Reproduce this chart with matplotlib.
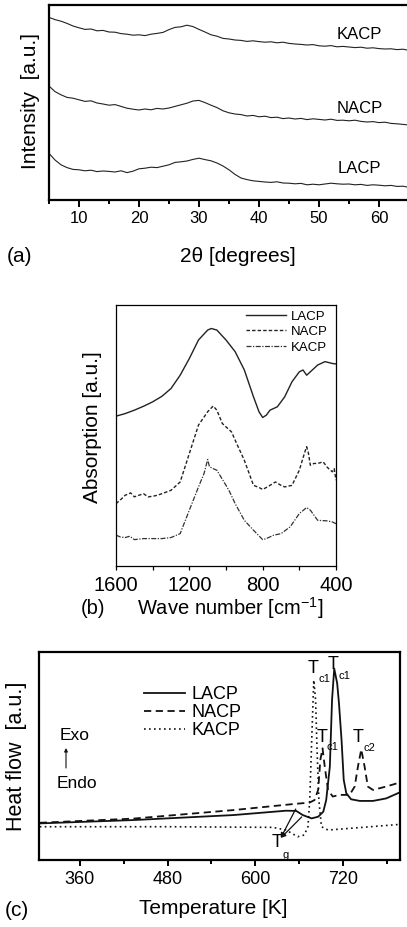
import numpy as np
import matplotlib.pyplot as plt
from matplotlib.ticker import MultipleLocator

plt.rcParams['font.family'] = ['Liberation Sans', 'DejaVu Sans']

# ── (a) XRD ──────────────────────────────────────────────────────────────
two_theta = np.arange(5, 66, 1)
xrd_kacp = [91.3, 90.2, 89.4, 88.3, 87.0, 86.1, 85.3, 85.5, 84.6, 84.8, 84.0, 83.9,
            83.2, 82.9, 82.4, 82.6, 82.2, 82.9, 83.3, 83.8, 85.2, 86.3, 86.6, 87.4,
            86.7, 85.3, 84.0, 82.6, 81.9, 80.8, 80.5, 80.0, 79.8, 79.3, 79.6, 79.2,
            78.9, 79.1, 78.6, 78.9, 78.3, 78.0, 77.8, 77.5, 77.7, 77.1, 76.9, 77.2,
            76.6, 76.8, 76.5, 76.2, 76.4, 75.9, 76.1, 75.7, 75.5, 75.6, 75.2, 75.4, 74.8]
xrd_nacp = [57.0, 54.2, 52.6, 51.3, 50.9, 50.1, 49.3, 49.6, 48.5, 48.0, 47.4, 47.7,
            46.8, 45.9, 45.4, 45.0, 45.5, 45.1, 45.8, 45.5, 46.0, 46.8, 47.6, 48.4,
            49.5, 49.8, 48.7, 47.4, 46.2, 44.6, 43.6, 43.0, 42.7, 42.0, 42.3, 41.6,
            41.9, 41.2, 41.4, 40.7, 41.0, 40.5, 40.8, 40.2, 40.6, 40.3, 40.0, 40.4,
            39.8, 39.9, 39.6, 39.9, 39.3, 39.0, 39.2, 38.7, 38.9, 38.3, 38.1, 37.8, 37.5]
xrd_lacp = [23.3, 20.0, 17.6, 16.2, 15.3, 15.1, 14.6, 14.9, 14.2, 14.5, 14.3, 14.0,
            14.6, 13.7, 14.4, 15.6, 15.9, 16.4, 16.2, 16.9, 17.6, 18.8, 19.1, 19.5,
            20.3, 20.9, 20.2, 19.6, 18.5, 17.0, 15.1, 12.8, 11.0, 10.2, 9.6, 9.3,
            9.0, 8.8, 9.1, 8.5, 8.4, 8.1, 8.3, 7.6, 7.9, 7.6, 8.0, 8.4, 8.1, 7.9,
            8.0, 7.6, 7.8, 7.3, 7.6, 7.4, 7.1, 7.3, 6.8, 6.9, 6.3]
xrd_names = ['KACP', 'NACP', 'LACP']
xrd_label_y = [82.5, 45.8, 15.8]

# ── (b) FTIR ─────────────────────────────────────────────────────────────
wn_lacp = [1600, 1550, 1500, 1450, 1400, 1350, 1300, 1250, 1200, 1150, 1100, 1080,
           1050, 1000, 950, 900, 850, 820, 800, 780, 760, 720, 680, 640, 600, 580,
           560, 540, 500, 460, 420, 400]
ir_lacp = [57.4, 58.4, 59.7, 61.2, 62.9, 65.0, 68.0, 73.1, 79.5, 86.6, 90.4, 91.0,
           90.4, 86.6, 82.1, 75.1, 64.8, 59.1, 56.9, 57.8, 59.7, 61.0, 64.8, 70.6,
           74.4, 75.1, 73.1, 74.4, 77.0, 78.3, 77.6, 77.4]
wn_nacp = [1600, 1575, 1550, 1520, 1500, 1475, 1450, 1425, 1400, 1375, 1350, 1300,
           1250, 1200, 1150, 1100, 1070, 1050, 1020, 1000, 970, 950, 900, 850, 820,
           800, 760, 730, 700, 680, 640, 600, 570, 560, 550, 540, 520, 500, 470, 450,
           440, 420, 410, 400]
ir_nacp = [23.9, 25.4, 27.1, 28.0, 26.5, 27.1, 27.7, 26.5, 26.7, 27.1, 27.7, 29.0,
           32.2, 43.1, 54.0, 59.1, 61.3, 59.7, 54.6, 53.3, 51.4, 48.2, 40.5, 30.9,
           30.1, 29.3, 30.9, 32.2, 30.9, 30.3, 30.9, 36.7, 43.7, 45.7, 43.1, 38.6,
           39.3, 39.3, 39.9, 38.0, 37.3, 36.1, 37.3, 32.9]
wn_kacp = [1600, 1575, 1550, 1525, 1500, 1450, 1400, 1350, 1300, 1250, 1200, 1150,
           1120, 1100, 1090, 1070, 1050, 1000, 980, 950, 900, 850, 800, 780, 740,
           700, 650, 600, 560, 540, 500, 450, 420, 400]
ir_kacp = [11.8, 11.1, 10.9, 11.4, 10.1, 10.5, 10.5, 10.5, 10.9, 12.4, 21.4, 30.3,
           35.4, 40.8, 38.0, 37.3, 36.7, 30.9, 28.4, 23.9, 17.5, 13.7, 10.1, 10.5,
           11.8, 12.4, 15.0, 20.1, 22.4, 21.4, 17.5, 17.3, 16.9, 16.2]

# ── (c) DSC ──────────────────────────────────────────────────────────────
t_lacp = [305, 433, 570, 642, 656, 665, 677, 686, 693, 697, 702, 705, 708, 712,
          714.5, 718, 721, 724.5, 731, 743, 761, 779, 797]
hf_lacp = [17.6, 19.2, 21.6, 23.7, 23.6, 21.6, 20.0, 20.8, 23.2, 28.8, 44.9, 76.9,
           92.0, 85.0, 75.3, 57.7, 38.5, 32.1, 29.2, 28.4, 28.4, 29.6, 32.4]
t_nacp = [305, 433, 570, 652, 674, 681, 686, 689, 692, 695, 699.5, 706, 715, 729,
          736, 740.5, 745, 749.5, 754, 761, 779, 797]
hf_nacp = [17.9, 19.9, 24.0, 26.9, 27.6, 28.8, 33.7, 48.1, 53.7, 45.0, 33.7, 30.5,
           31.3, 31.3, 35.3, 45.0, 53.2, 45.0, 35.3, 33.7, 35.3, 37.2]
t_kacp = [305, 478, 624, 642, 658, 667, 672, 674.5, 677.5, 680, 682.5, 684.5, 687,
          690.5, 699.5, 729, 797]
hf_kacp = [16.0, 16.0, 15.7, 14.4, 11.2, 12.0, 16.0, 28.8, 60.9, 86.5, 76.9, 52.9,
           28.8, 16.0, 14.4, 15.2, 17.1]

W, H = 407, 927
fig = plt.figure(figsize=(W / 100, H / 100), dpi=100)


def px(x, y):
    return x / W, 1 - y / H


# ── panel (a) ────────────────────────────────────────────────────────────
ax1 = fig.add_axes([49 / W, 1 - 200 / H, (409 - 49) / W, 195 / H])
for vals in (xrd_kacp, xrd_nacp, xrd_lacp):
    ax1.plot(two_theta, vals, color='#222222', lw=0.8)
for name, y in zip(xrd_names, xrd_label_y):
    ax1.text(56.8, y, name, fontsize=12, ha='center', va='center')
ax1.set_xlim(5, 65)
ax1.set_ylim(0, 97.5)
ax1.set_yticks([])
ax1.xaxis.set_major_locator(MultipleLocator(10))
ax1.xaxis.set_minor_locator(MultipleLocator(5))
ax1.tick_params(axis='x', which='major', direction='out', length=5, width=1.4,
                labelsize=12, pad=3)
ax1.tick_params(axis='x', which='minor', direction='out', length=3, width=1.4)
for s in ax1.spines.values():
    s.set_linewidth(1.6)
fig.text(*px(30, 101), 'Intensity  [a.u.]', rotation=90, fontsize=15,
         ha='center', va='center')
fig.text(*px(238, 257), '2θ [degrees]', fontsize=15, ha='center', va='center')
fig.text(*px(20, 257), '(a)', fontsize=15, ha='center', va='center')

# ── panel (b) ────────────────────────────────────────────────────────────
ax2 = fig.add_axes([116 / W, 1 - 566 / H, 220 / W, 261 / H])
ax2.plot(wn_lacp, ir_lacp, color='#222222', lw=1.0, ls='-', label='LACP')
ax2.plot(wn_nacp, ir_nacp, color='#222222', lw=1.0, ls=(0, (2.5, 1.5)), label='NACP')
ax2.plot(wn_kacp, ir_kacp, color='#333333', lw=0.9, ls=(0, (4, 1.2, 1, 1.2)),
         label='KACP')
ax2.set_xlim(1600, 400)
ax2.set_ylim(0, 100)
ax2.set_yticks([])
ax2.xaxis.set_major_locator(MultipleLocator(400))
ax2.xaxis.set_minor_locator(MultipleLocator(200))
ax2.tick_params(axis='x', which='both', direction='out', length=3, width=0.9,
                labelsize=14.5, pad=4)
for s in ax2.spines.values():
    s.set_linewidth(0.9)
ax2.legend(loc='upper right', bbox_to_anchor=(1.0, 1.01), frameon=False,
           fontsize=9.5, handlelength=3.0, handletextpad=0.4, labelspacing=0.25,
           borderaxespad=0.2)
fig.text(*px(92, 427), 'Absorption [a.u.]', rotation=90, fontsize=15,
         ha='center', va='center')
fig.text(*px(230, 608), 'Wave number [cm$^{\\mathregular{-1}}$]', fontsize=14.5,
         ha='center', va='center')
fig.text(*px(93, 609), '(b)', fontsize=14.5, ha='center', va='center')

# ── panel (c) ────────────────────────────────────────────────────────────
ax3 = fig.add_axes([39 / W, 1 - 860 / H, 361 / W, 208 / H])
ax3.plot(t_lacp, hf_lacp, color='#111111', lw=1.3, ls='-', label='LACP')
ax3.plot(t_nacp, hf_nacp, color='#111111', lw=1.3, ls=(0, (4, 2.5)), label='NACP')
ax3.plot(t_kacp, hf_kacp, color='#111111', lw=1.2, ls=(0, (1, 2)), label='KACP')
ax3.set_xlim(304, 798)
ax3.set_ylim(0, 100)
ax3.set_yticks([])
ax3.xaxis.set_major_locator(MultipleLocator(120))
ax3.xaxis.set_minor_locator(MultipleLocator(60))
ax3.tick_params(axis='x', which='major', direction='out', length=4, width=1.4,
                labelsize=13, pad=4)
ax3.tick_params(axis='x', which='minor', direction='out', length=3, width=1.4)
for s in ax3.spines.values():
    s.set_linewidth(1.6)
ax3.legend(loc='upper left', bbox_to_anchor=(0.27, 0.87), frameon=False,
           fontsize=13, handlelength=2.3, handletextpad=0.35, labelspacing=0.05,
           borderaxespad=0.0)

# crystallisation / glass transition labels
for (tx, ty, sx, sy, sub) in [(678.5, 92.3, 695, 87, 'c1'),
                              (705.9, 94.2, 722.3, 88.5, 'c1'),
                              (690.8, 59.1, 705.9, 54.3, 'c1'),
                              (740.0, 59.1, 756.4, 53.8, 'c2')]:
    ax3.text(tx, ty, 'T', fontsize=13, ha='center', va='center')
    ax3.text(sx, sy, sub, fontsize=8, ha='center', va='center')
ax3.text(629.3, 8.2, 'T', fontsize=13, ha='center', va='center')
ax3.text(641.6, 2.4, 'g', fontsize=8, ha='center', va='center')
for end in [(655.3, 24.5), (663.5, 20.7)]:
    ax3.annotate('', xy=(634.8, 10.6), xytext=end,
                 arrowprops=dict(arrowstyle='-|>', color='#111111', lw=0.9,
                                 mutation_scale=7, shrinkA=0, shrinkB=0))

fig.text(*px(75, 735), 'Exo', fontsize=12.5, ha='center', va='center')
fig.text(*px(77, 783), 'Endo', fontsize=12.5, ha='center', va='center')
ax3.annotate('', xy=px(66, 748), xytext=px(66, 768), xycoords='figure fraction',
             textcoords='figure fraction',
             arrowprops=dict(arrowstyle='-|>', color='#111111', lw=0.8,
                             mutation_scale=5, shrinkA=0, shrinkB=0))
fig.text(*px(17, 756), 'Heat flow  [a.u.]', rotation=90, fontsize=15.5,
         ha='center', va='center')
fig.text(*px(213, 908), 'Temperature [K]', fontsize=15, ha='center', va='center')
fig.text(*px(17, 911), '(c)', fontsize=15, ha='center', va='center')

fig.savefig('out.png', dpi=100)
